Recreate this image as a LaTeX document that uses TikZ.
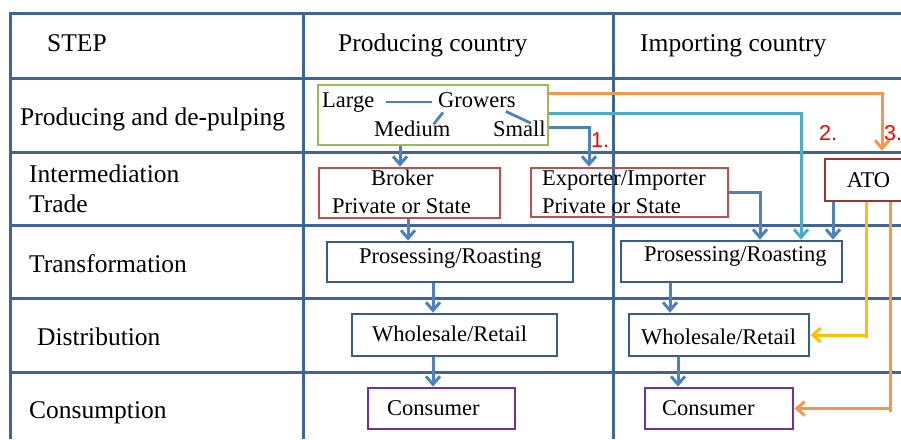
\documentclass[tikz,border=0pt]{standalone}
\usepackage{fontspec}
\setmainfont{Liberation Serif}
\newfontfamily\stepnofont{Liberation Sans}
\usetikzlibrary{arrows.meta}

\definecolor{gridblue}{HTML}{3F6597}
\definecolor{boxblue}{HTML}{385D8A}
\definecolor{flowblue}{HTML}{4F81BD}
\definecolor{growgreen}{HTML}{9BBB59}
\definecolor{tradered}{HTML}{C0504D}
\definecolor{atored}{HTML}{953735}
\definecolor{consviolet}{HTML}{7030A0}
\definecolor{flowcyan}{HTML}{4BACC6}
\definecolor{floworange}{HTML}{F79646}
\definecolor{flowyellow}{HTML}{FFC000}

\begin{document}
\begin{tikzpicture}[x=1pt,y=-1pt,
  grid/.style={draw=gridblue,line width=3pt},
  box/.style={draw,line width=2.8pt,inner sep=0pt},
  rowlabel/.style={anchor=base west,inner sep=0pt,font=\fontsize{25.5}{28}\selectfont},
  boxtext/.style={anchor=base west,inner sep=0pt,font=\fontsize{22.5}{25}\selectfont},
  stepno/.style={anchor=base west,inner sep=0pt,text=red,font=\stepnofont\fontsize{21.5}{24}\selectfont},
  link/.style={draw=flowblue,line width=2.8pt},
  flow/.style={line width=3pt,-{Straight Barb[length=8pt,width=14pt]}},
]
\clip (0,0) rectangle (901,439);

% table grid
\draw[grid] (10,439) -- (10,13) -- (901,13);
\foreach \yy in {78,152,225,298,372} \draw[grid] (10,\yy) -- (901,\yy);
\draw[grid] (303,13) -- (303,439);
\draw[grid] (613,13) -- (613,439);

% header and step names
\node[rowlabel] (hstep) at (47,51) {STEP};
\node[rowlabel] (hprod) at (338,51) {Producing country};
\node[rowlabel] (himp) at (640,51) {Importing country};
\node[rowlabel] (rprod) at (20,125) {Producing and de-pulping};
\node[rowlabel] (rinter) at (29,182) {Intermediation};
\node[rowlabel] (rtrade) at (29,212) {Trade};
\node[rowlabel] (rtrans) at (29,272) {Transformation};
\node[rowlabel] (rdist) at (37,345) {Distribution};
\node[rowlabel] (rcons) at (29,418) {Consumption};

% boxes
\node[box,draw=growgreen,minimum width=230pt,minimum height=60pt] (grow) at (433,115) {};
\node[box,draw=tradered,minimum width=181pt,minimum height=50pt] (brok) at (409.5,193) {};
\node[box,draw=tradered,minimum width=197pt,minimum height=49pt] (expo) at (629.5,192.5) {};
\node[box,draw=atored,minimum width=87pt,minimum height=42pt,
      font=\fontsize{22.5}{25}\selectfont] (ato) at (868.5,180) {ATO};
\node[box,draw=boxblue,minimum width=246pt,minimum height=40pt] (proc1) at (450,262) {};
\node[box,draw=boxblue,minimum width=221pt,minimum height=41pt] (proc2) at (731.5,261.5) {};
\node[box,draw=boxblue,minimum width=205pt,minimum height=42pt] (whole1) at (454.5,335) {};
\node[box,draw=boxblue,minimum width=180pt,minimum height=42pt] (whole2) at (719,335) {};
\node[box,draw=consviolet,minimum width=147pt,minimum height=41pt] (cons1) at (441.5,408.5) {};
\node[box,draw=consviolet,minimum width=148pt,minimum height=41pt] (cons2) at (719,408.5) {};

% box texts
\node[boxtext] (tlarge) at (322,107) {Large};
\node[boxtext] (tgrowers) at (438,107) {Growers};
\node[boxtext] (tmedium) at (374,136) {Medium};
\node[boxtext] (tsmall) at (493,136) {Small};
\node[boxtext] (tbroker) at (371,185) {Broker};
\node[boxtext] (tbrokerkind) at (332,213) {Private or State};
\node[boxtext] (texpo) at (542,185) {Exporter/Importer};
\node[boxtext] (texpokind) at (542,213) {Private or State};
\node[boxtext] (tproc1) at (359,263) {Prosessing/Roasting};
\node[boxtext] (tproc2) at (644,261) {Prosessing/Roasting};
\node[boxtext] (twhole1) at (372,341) {Wholesale/Retail};
\node[boxtext] (twhole2) at (641,344) {Wholesale/Retail};
\node[boxtext] (tcons1) at (387,415) {Consumer};
\node[boxtext] (tcons2) at (662,415) {Consumer};

% route numbers
\node[stepno] (n1) at (591,147) {1.};
\node[stepno] (n2) at (819,140) {2.};
\node[stepno] (n3) at (884,140) {3.};

% grower size links
\draw[link,shorten <=12pt,shorten >=6pt] (tlarge.east) -- (tgrowers.west |- tlarge.east);
\draw[link] ([shift={(-17,4)}]tmedium.north east) -- ([shift={(5,5)}]tgrowers.south west);
\draw[link] ([shift={(-10,4)}]tgrowers.south east) -- ([shift={(-15,3)}]tsmall.north east);

% guide positions of the flow lines
\coordinate (xa) at (400,0);
\coordinate (xb) at (589,0);
\coordinate (xc) at (801,0);
\coordinate (xo) at (882,0);
\coordinate (xbr) at (408,0);
\coordinate (xe) at (760,0);
\coordinate (xat) at (833,0);
\coordinate (xp1) at (433,0);
\coordinate (xp2) at (670,0);
\coordinate (xw2) at (678,0);
\coordinate (xy) at (866,0);
\coordinate (xo2) at (890,0);
\coordinate (ys) at (0,127);
\coordinate (yc) at (0,113);
\coordinate (yo) at (0,93.5);
\coordinate (yend) at (866,338);
\coordinate (oend) at (890,412);

% flows in the producing country
\draw[flow,draw=flowblue] (grow.south -| xa) -- (brok.north -| xa);
\draw[flow,draw=flowblue] (grow.east |- ys) -| (expo.north -| xb);
\draw[flow,draw=flowblue] (brok.south -| xbr) -- (proc1.north -| xbr);
\draw[flow,draw=flowblue] (proc1.south -| xp1) -- (whole1.north -| xp1);
\draw[flow,draw=flowblue] (whole1.south -| xp1) -- (cons1.north -| xp1);

% flows into the importing country
\draw[flow,draw=flowcyan] (grow.east |- yc) -| (proc2.north -| xc);
\draw[flow,draw=floworange,shorten >=7pt] (grow.east |- yo) -| (ato.north -| xo);
\draw[flow,draw=flowblue] (expo.east) -| (proc2.north -| xe);
\draw[flow,draw=flowblue] (ato.south -| xat) -- (proc2.north -| xat);
\draw[flow,draw=flowblue] (proc2.south -| xp2) -- (whole2.north -| xp2);
\draw[flow,draw=flowblue] (whole2.south -| xw2) -- (cons2.north -| xw2);

% ATO direct routes
\draw[draw=flowyellow,line width=3pt] (ato.south -| xy) -- (yend);
\draw[flow,draw=flowyellow] (whole2.east -| xy) -- (whole2.east);
\draw[draw=floworange,line width=3pt] (ato.south -| xo2) -- (oend);
\draw[flow,draw=floworange] (cons2.east -| xo2) -- (cons2.east);
\end{tikzpicture}
\end{document}
